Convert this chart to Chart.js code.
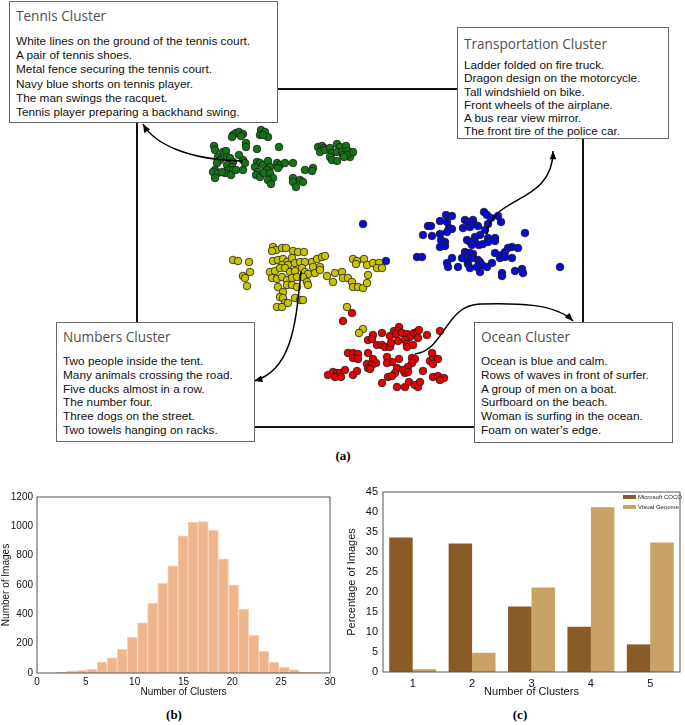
<!DOCTYPE html>
<html>
<head>
<meta charset="utf-8">
<script src="https://cdn.jsdelivr.net/npm/chart.js@4.4.1/dist/chart.umd.min.js"></script>
<style>
  body { margin: 0; background: #fff; }
  #fig { position: relative; width: 685px; height: 725px; overflow: hidden; font-family: 'Liberation Sans', Arial, sans-serif; }
  canvas { position: absolute; }
  .box { position: absolute; border: 1px solid #6a6a6a; background: #fff; box-sizing: border-box; padding: 5px 0 0 6px; }
  .box h3 { margin: 0; font: 13.6px 'Open Sans', sans-serif; color: #505050; line-height: 18px; }
  .box p { margin: 9px 0 0; font-size: 11.8px; line-height: 13.8px; color: #111; white-space: nowrap; }
  .cap { position: absolute; font: bold 13px 'Liberation Serif', serif; transform: translate(-50%, -50%); }
</style>
</head>
<body>
<div id="fig">
  <canvas id="chartScatter" width="466" height="358" style="left:127px;top:79px"></canvas>
  <canvas id="chartHist" width="345" height="215" style="left:0;top:485px"></canvas>
  <canvas id="chartBars" width="340" height="220" style="left:345px;top:480px"></canvas>

  <div class="box" style="left:9px;top:1px;width:269px;height:122px">
    <h3>Tennis Cluster</h3>
    <p style="line-height:14.2px">White lines on the ground of the tennis court.<br>A pair of tennis shoes.<br>Metal fence securing the tennis court.<br>Navy blue shorts on tennis player.<br>The man swings the racquet.<br>Tennis player preparing a backhand swing.</p>
  </div>
  <div class="box" style="left:457px;top:27px;width:212px;height:112px;padding-top:7px">
    <h3>Transportation Cluster</h3>
    <p style="margin-top:6px;line-height:13.3px">Ladder folded on fire truck.<br>Dragon design on the motorcycle.<br>Tall windshield on bike.<br>Front wheels of the airplane.<br>A bus rear view mirror.<br>The front tire of the police car.</p>
  </div>
  <div class="box" style="left:56px;top:322px;width:199px;height:120px">
    <h3>Numbers Cluster</h3>
    <p>Two people inside the tent.<br>Many animals crossing the road.<br>Five ducks almost in a row.<br>The number four.<br>Three dogs on the street.<br>Two towels hanging on racks.</p>
  </div>
  <div class="box" style="left:474px;top:322px;width:199px;height:121px">
    <h3>Ocean Cluster</h3>
    <p>Ocean is blue and calm.<br>Rows of waves in front of surfer.<br>A group of men on a boat.<br>Surfboard on the beach.<br>Woman is surfing in the ocean.<br>Foam on water’s edge.</p>
  </div>

  <div class="cap" style="left:343px;top:456px">(a)</div>
  <div class="cap" style="left:174px;top:715px">(b)</div>
  <div class="cap" style="left:520px;top:715px">(c)</div>
</div>

<script>
// ── DATA ───────────────────────────────────────────────────────────────────
// (a) 2-D embedding of region captions, one list per cluster
const tennisPts = [
  [9.6,29.2],[9.9,29.4],[10.2,29.5],[10.6,29.3],[10.4,29.1],[9.5,29.0],[12.4,29.7],[12.8,29.5],[12.3,29.2],[13.1,29.0],
  [12.6,29.2],[10.9,28.4],[10.9,28.0],[12.0,27.8],[14.2,28.0],[7.7,28.1],[7.8,27.7],[8.6,27.5],[8.9,27.6],[8.1,27.0],
  [8.3,26.7],[8.0,26.4],[9.0,27.0],[9.3,26.9],[9.6,26.5],[9.0,26.2],[9.5,26.0],[9.1,25.7],[9.6,25.7],[8.8,25.4],
  [7.8,25.7],[7.6,25.5],[8.1,25.4],[7.8,24.9],[8.5,25.5],[9.4,25.2],[9.9,25.7],[10.6,26.7],[10.8,26.4],[10.6,25.7],
  [10.2,27.2],[12.0,26.5],[12.3,26.4],[11.8,26.0],[12.6,26.2],[13.1,26.6],[13.3,26.0],[13.0,25.7],[12.1,25.5],[11.9,25.2],
  [12.3,25.0],[12.7,25.4],[13.3,25.4],[14.0,26.4],[14.3,26.2],[14.1,25.9],[14.8,26.4],[13.6,24.9],[13.1,24.7],[13.4,24.3],
  [15.6,26.4],[15.6,24.9],[15.6,24.5],[15.9,24.0],[16.3,24.7],[16.6,24.5],[16.8,25.7],[17.6,25.9],[17.5,25.6],[18.1,28.0],
  [18.5,28.1],[18.7,27.9],[18.3,27.5],[18.8,27.7],[19.3,27.9],[19.5,27.4],[20.0,28.3],[20.3,28.0],[20.0,27.5],[20.5,27.5],
  [20.9,28.1],[20.6,27.2],[21.1,27.6],[21.5,27.4],[21.3,27.0],[21.0,27.2],[19.3,27.0],[19.5,26.7],[20.0,26.6],[20.7,27.0],
  [21.6,27.5]
];
const numbersPts = [
  [9.6,16.7],[10.1,16.6],[11.2,16.5],[11.3,15.5],[10.6,15.1],[10.8,14.9],[11.0,14.1],[13.6,18.0],[13.9,17.7],[13.5,17.6],
  [14.5,17.9],[14.9,17.9],[15.6,17.6],[16.1,17.5],[16.7,17.5],[13.6,16.6],[14.1,16.7],[14.6,16.8],[15.0,16.5],[15.5,16.9],
  [14.5,16.2],[15.1,16.2],[15.8,16.4],[16.3,16.5],[16.8,16.5],[17.5,16.5],[18.0,16.8],[18.5,17.0],[18.8,17.1],[17.6,16.0],
  [18.3,16.0],[13.3,15.5],[13.8,15.6],[14.3,15.9],[14.8,15.9],[15.3,15.5],[15.8,15.6],[16.5,15.9],[16.8,15.5],[17.1,15.3],
  [17.8,15.4],[18.3,15.7],[13.5,14.9],[14.0,14.8],[14.5,15.0],[15.0,14.7],[15.5,14.9],[16.0,15.0],[16.6,15.0],[17.0,14.5],
  [17.1,14.2],[15.0,14.2],[15.5,14.2],[14.1,14.0],[14.6,13.5],[14.3,13.0],[14.6,12.9],[14.8,12.4],[14.0,12.0],[14.5,12.0],
  [15.1,12.4],[15.8,12.9],[16.3,12.7],[16.6,12.7],[16.0,14.0],[19.0,15.1],[19.8,15.4],[19.6,14.5],[20.5,15.5],[20.6,14.9],
  [21.1,14.9],[21.5,14.5],[21.6,14.0],[22.1,14.0],[22.6,13.9],[23.0,14.4],[23.1,15.2],[21.6,16.8],[22.0,16.6],[21.9,16.3],
  [22.7,16.8],[23.0,16.2],[23.6,16.4],[24.2,16.4],[24.0,15.9],[24.5,15.9],[21.0,12.0],[22.6,9.8],[22.2,9.4]
];
const transportPts = [
  [22.6,20.3],[24.9,16.6],[28.0,17.0],[28.5,17.0],[42.3,16.0],[38.8,19.4],[30.9,21.2],[31.5,21.1],[30.3,20.6],[31.0,20.5],
  [29.1,20.1],[29.4,20.1],[31.2,19.9],[31.5,19.8],[28.6,19.2],[29.5,19.1],[30.3,19.3],[31.0,19.5],[30.4,18.7],[30.8,18.5],
  [30.3,18.0],[30.8,18.1],[32.8,20.7],[33.1,20.5],[33.6,20.7],[32.6,19.9],[33.3,20.0],[33.7,20.3],[34.1,20.1],[34.7,21.5],
  [35.0,21.2],[36.1,21.1],[36.4,20.5],[35.4,20.9],[35.1,20.3],[34.8,19.7],[34.3,19.2],[33.8,19.0],[33.0,18.7],[33.3,18.5],
  [33.8,18.5],[34.2,18.2],[33.5,18.2],[34.6,18.3],[35.1,18.9],[35.8,18.9],[35.1,18.5],[32.8,17.5],[33.3,17.4],[33.6,17.3],
  [32.5,16.9],[33.0,16.7],[33.5,16.9],[31.5,16.9],[31.0,16.4],[31.1,16.0],[32.1,16.0],[33.1,16.3],[33.3,15.9],[34.1,16.7],
  [34.3,16.5],[34.5,16.2],[34.0,16.0],[34.3,15.5],[35.0,16.0],[35.5,16.4],[35.8,17.4],[36.3,16.9],[36.5,17.2],[36.8,17.5],
  [37.1,17.9],[37.5,18.0],[38.1,17.9],[36.8,17.0],[37.5,16.9],[36.5,15.4],[36.5,15.1],[37.8,15.6],[38.5,15.8],[38.6,15.4],
  [35.8,18.6]
];
const oceanPts = [
  [21.5,11.4],[20.6,10.6],[23.6,9.2],[23.1,8.7],[23.5,8.8],[24.5,9.4],[25.3,9.1],[25.7,9.6],[26.2,10.0],[26.1,9.6],
  [25.9,9.3],[26.5,9.4],[27.0,9.3],[27.3,9.0],[27.7,9.4],[28.0,9.5],[28.2,9.7],[29.0,9.2],[30.3,9.6],[24.0,8.2],
  [24.5,8.2],[24.8,8.0],[25.3,8.0],[25.4,8.4],[26.1,8.6],[26.8,8.7],[27.0,8.3],[27.0,8.0],[27.6,8.2],[28.1,8.9],
  [21.1,7.4],[21.6,7.4],[22.1,7.3],[21.6,6.9],[22.1,6.8],[23.1,7.4],[23.6,6.8],[23.9,6.4],[23.0,6.3],[23.5,6.2],
  [23.1,5.9],[23.3,5.8],[25.0,7.0],[25.5,6.5],[25.0,6.4],[26.2,6.8],[27.5,6.9],[27.8,6.8],[27.5,6.4],[27.1,6.0],
  [26.0,5.9],[25.8,5.4],[25.1,5.0],[25.5,5.1],[26.8,5.4],[26.6,5.7],[27.1,5.5],[28.6,5.6],[29.3,6.6],[29.6,7.0],
  [29.5,7.4],[30.1,6.8],[29.6,6.3],[19.1,5.2],[19.6,5.5],[20.0,5.4],[20.3,5.4],[20.8,5.7],[19.8,5.0],[20.4,5.0],
  [21.6,5.2],[22.0,5.6],[24.5,4.4],[26.0,4.0],[26.8,4.0],[27.2,4.5],[27.8,4.2],[28.1,4.0],[28.3,4.5],[29.6,5.0],
  [30.1,5.1],[30.7,4.9],[30.3,4.7]
];

// curved pointers from a cluster to its caption box: start, then [c1, c2, end] segments
const arrowPaths = [
  { start: [10.6,26.6], segs: [[[5.3,26.7],[1.8,28.2],[0.6,30.3]]] },
  { start: [35.0,19.3], segs: [[[35.3,23.2],[41.6,22.2],[41.6,27.6]]] },
  { start: [16.4,15.5], segs: [[[15.9,10.7],[15.6,5.7],[11.7,4.6]]] },
  { start: [27.8,7.3],  segs: [[[30.8,7.7],[30.8,12.2],[34.3,12.3]], [[37.8,12.4],[41.8,12.4],[43.6,10.6]]] },
];

// (b) histogram of clusters per image
const histBinStart = [2.00,3.04,4.07,5.11,6.14,7.18,8.21,9.25,10.29,11.32,12.36,13.39,14.43,15.46,
                      16.50,17.54,18.57,19.61,20.64,21.68,22.71,23.75,24.79,25.82,26.86,27.89,28.93];
const histCounts   = [5,14,18,27,75,103,162,244,342,475,611,730,935,1027,
                      1033,972,778,602,436,256,148,75,39,23,7,4,3];
const histBinWidth = 1.036;

// (c) share of images by number of clusters
const clusterLabels = ['1','2','3','4','5'];
const cocoPct   = [33.6, 32.1, 16.4, 11.3, 6.9];
const genomePct = [0.7, 4.8, 21.1, 41.2, 32.4];

// ── CHART.JS DEFAULTS ──────────────────────────────────────────────────────
Chart.defaults.font.family = "'Liberation Sans', Arial, sans-serif";
Chart.defaults.font.size = 10;
Chart.defaults.color = '#111';
Chart.defaults.animation = false;

const toXY = pts => pts.map(p => ({ x: p[0], y: p[1] }));
const noGrid = { display: false, drawTicks: false };

// box round the plot area
const framePlugin = {
  id: 'frame',
  afterDraw(chart, args, opts) {
    const a = chart.chartArea, ctx = chart.ctx;
    ctx.save();
    ctx.strokeStyle = opts.color || '#444';
    ctx.lineWidth = opts.width || 1;
    ctx.strokeRect(a.left, a.top, a.right - a.left, a.bottom - a.top);
    ctx.restore();
  }
};

// curved arrows, positioned through the chart scales
const arrowPlugin = {
  id: 'arrows',
  afterDatasetsDraw(chart) {
    const ctx = chart.ctx, sx = chart.scales.x, sy = chart.scales.y;
    const P = p => [sx.getPixelForValue(p[0]), sy.getPixelForValue(p[1])];
    ctx.save();
    ctx.strokeStyle = '#000';
    ctx.fillStyle = '#000';
    ctx.lineWidth = 1.5;
    arrowPaths.forEach(a => {
      const s = P(a.start);
      ctx.beginPath();
      ctx.moveTo(s[0], s[1]);
      let last, prev;
      a.segs.forEach(seg => {
        const c1 = P(seg[0]), c2 = P(seg[1]), e = P(seg[2]);
        ctx.bezierCurveTo(c1[0], c1[1], c2[0], c2[1], e[0], e[1]);
        prev = c2; last = e;
      });
      ctx.stroke();
      const ang = Math.atan2(last[1] - prev[1], last[0] - prev[0]);
      ctx.beginPath();
      ctx.moveTo(last[0], last[1]);
      ctx.lineTo(last[0] - 9 * Math.cos(ang - 0.38), last[1] - 9 * Math.sin(ang - 0.38));
      ctx.lineTo(last[0] - 9 * Math.cos(ang + 0.38), last[1] - 9 * Math.sin(ang + 0.38));
      ctx.closePath();
      ctx.fill();
    });
    ctx.restore();
  }
};

// small legend inside the top right corner
const innerLegend = {
  id: 'innerLegend',
  afterDraw(chart) {
    const ctx = chart.ctx, a = chart.chartArea;
    ctx.save();
    ctx.font = "6px 'Liberation Sans', Arial, sans-serif";
    ctx.textBaseline = 'middle';
    chart.data.datasets.forEach((ds, i) => {
      const y = a.top + 5 + i * 10;
      ctx.fillStyle = ds.backgroundColor;
      ctx.fillRect(a.right - 57, y - 2, 13, 4);
      ctx.fillStyle = '#222';
      ctx.fillText(ds.label, a.right - 42, y);
    });
    ctx.restore();
  }
};

// ── (a) SCATTER ────────────────────────────────────────────────────────────
const ptStyle = { pointRadius: 3.8, borderWidth: 0.8, borderColor: '#1a1a1a' };
new Chart(document.getElementById('chartScatter'), {
  type: 'scatter',
  data: {
    datasets: [
      { label: 'Tennis', data: toXY(tennisPts), backgroundColor: '#137513', ...ptStyle },
      { label: 'Numbers', data: toXY(numbersPts), backgroundColor: '#c9c400', ...ptStyle },
      { label: 'Transportation', data: toXY(transportPts), backgroundColor: '#0a0ad8', ...ptStyle },
      { label: 'Ocean', data: toXY(oceanPts), backgroundColor: '#e80000', ...ptStyle },
    ]
  },
  options: {
    responsive: false,
    layout: { padding: 10 },
    plugins: { legend: { display: false }, tooltip: { enabled: false }, frame: { color: '#111', width: 2 } },
    scales: {
      x: { type: 'linear', min: 0, max: 44.6, display: false },
      y: { type: 'linear', min: 0, max: 33.8, display: false }
    }
  },
  plugins: [arrowPlugin, framePlugin]
});

// ── (b) HISTOGRAM ──────────────────────────────────────────────────────────
new Chart(document.getElementById('chartHist'), {
  type: 'bar',
  data: {
    datasets: [{
      label: 'Images',
      data: histCounts.map((c, i) => ({ x: histBinStart[i] + histBinWidth / 2, y: c })),
      backgroundColor: '#efb68e', borderColor: '#f8d3b8', borderWidth: 1,
      barPercentage: 1, categoryPercentage: 1,
    }]
  },
  options: {
    responsive: false,
    layout: { padding: { top: 12, right: 15, left: 0, bottom: 0 } },
    plugins: { legend: { display: false }, tooltip: { enabled: false }, frame: { color: '#555', width: 1 } },
    scales: {
      x: {
        type: 'linear', min: 0, max: 30, offset: false,
        grid: noGrid, border: { display: false },
        ticks: { stepSize: 5, padding: 3, maxRotation: 0 },
        title: { display: true, text: 'Number of Clusters', padding: { top: 0, bottom: 2 } },
        afterFit: s => { s.height = 27; }
      },
      y: {
        min: 0, max: 1200,
        grid: noGrid, border: { display: false },
        ticks: { stepSize: 200, padding: 4, callback: v => String(v) },
        title: { display: true, text: 'Number of Images', padding: { top: 0, bottom: 2 } },
        afterFit: s => { s.width = 37; }
      }
    }
  },
  plugins: [framePlugin]
});

// ── (c) GROUPED BARS ───────────────────────────────────────────────────────
new Chart(document.getElementById('chartBars'), {
  type: 'bar',
  data: {
    labels: clusterLabels,
    datasets: [
      { label: 'Microsoft COCO', data: cocoPct, backgroundColor: '#8a5a27', borderWidth: 0,
        barPercentage: 1, categoryPercentage: 0.79 },
      { label: 'Visual Genome', data: genomePct, backgroundColor: '#c9a265', borderWidth: 0,
        barPercentage: 1, categoryPercentage: 0.79 },
    ]
  },
  options: {
    responsive: false,
    layout: { padding: { top: 12, right: 5, left: 0, bottom: 0 } },
    plugins: { legend: { display: false }, tooltip: { enabled: false }, frame: { color: '#555', width: 1 } },
    scales: {
      x: {
        grid: noGrid, border: { display: false },
        ticks: { padding: 5, font: { size: 11 } },
        title: { display: true, text: 'Number of Clusters', font: { size: 11 }, padding: { top: 0, bottom: 1 } },
        afterFit: s => { s.height = 28; }
      },
      y: {
        min: 0, max: 45,
        grid: noGrid, border: { display: false },
        ticks: { stepSize: 5, padding: 5, font: { size: 11 } },
        title: { display: true, text: 'Percentage of Images', font: { size: 11 }, padding: { top: 0, bottom: 2 } },
        afterFit: s => { s.width = 38; }
      }
    }
  },
  plugins: [framePlugin, innerLegend]
});
</script>
</body>
</html>
